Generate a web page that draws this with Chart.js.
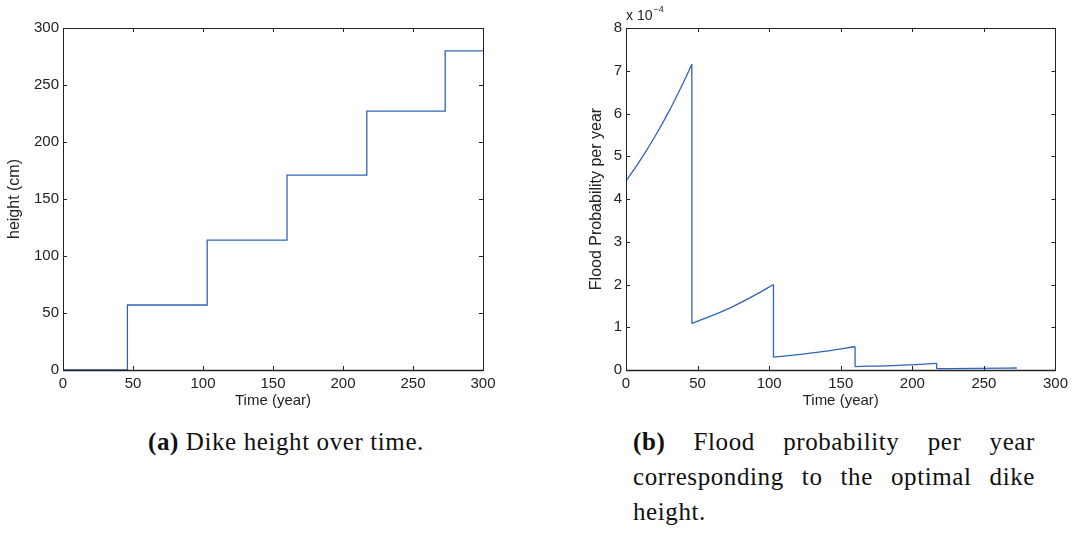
<!DOCTYPE html>
<html>
<head>
<meta charset="utf-8">
<script src="https://cdn.jsdelivr.net/npm/chart.js@4/dist/chart.umd.min.js"></script>
<style>
  body { margin: 0; background: #fff; width: 1073px; height: 533px; position: relative; overflow: hidden; }
  .box { position: absolute; top: 0; height: 415px; }
  .cap { position: absolute; font-family: "Liberation Serif", serif; font-size: 25px; letter-spacing: 0.6px; color: #111; line-height: 35px; }
  .cap b { font-weight: bold; }
  .jl { text-align: justify; text-align-last: justify; }
</style>
</head>
<body>
<div class="box" style="left:0;width:510px"><canvas id="dike"></canvas></div>
<div class="box" style="left:560px;width:513px"><canvas id="flood"></canvas></div>
<div class="cap" style="left:148px;top:424px"><b>(a)</b> Dike height over time.</div>
<div class="cap" style="left:633px;top:424px;width:402px">
  <div class="jl"><b>(b)</b> Flood probability per year</div>
  <div class="jl">corresponding to the optimal dike</div>
  <div>height.</div>
</div>
<script>
// (a) dike height, step function
var dikeTime   = [0, 46, 46, 103, 103, 160, 160, 217, 217, 273, 273, 300];
var dikeHeight = [0, 0, 57, 57, 114, 114, 171, 171, 227, 227, 280, 280];

// (b) flood probability per year, in units of 1e-4
// a repeated time value marks a drop (dike raised)
var floodTime = [0, 10, 20, 30, 40, 46,
                 46, 60, 75, 90, 103,
                 103, 120, 140, 160,
                 160, 190, 217,
                 217, 245, 273];
var floodProb = [4.42, 4.91, 5.45, 6.05, 6.72, 7.15,
                 1.09, 1.27, 1.49, 1.75, 2.0,
                 0.30, 0.36, 0.44, 0.55,
                 0.08, 0.11, 0.155,
                 0.03, 0.038, 0.047];

var lineColor = '#2f64b8';
var ink = '#222';
var sans = 'Liberation Sans';

function pts(xs, ys) {
    return xs.map(function(x, i){ return {x: x, y: ys[i]}; });
}

// split the flood series into smooth pieces + the vertical drops between them
function floodSets() {
    var pieces = [], drops = [], cur = [];
    floodTime.forEach(function(t, i){
        if (i > 0 && t === floodTime[i - 1]) {
            pieces.push(cur); cur = [];
            drops.push({x: t, y: floodProb[i - 1]}, {x: t, y: floodProb[i]}, {x: t, y: null});
        }
        cur.push({x: t, y: floodProb[i]});
    });
    pieces.push(cur);
    var sets = pieces.map(function(p){
        return { data: p, cubicInterpolationMode: 'monotone' };
    });
    sets.push({ data: drops, spanGaps: false, tension: 0 });
    return sets;
}

// matlab-like box with inward ticks on all four sides
var frame = {
    id: 'frame',
    afterDraw: function(chart) {
        var ctx = chart.ctx, a = chart.chartArea, sx = chart.scales.x, sy = chart.scales.y;
        ctx.save();
        ctx.strokeStyle = ink;
        ctx.lineWidth = 1;
        ctx.strokeRect(Math.round(a.left) + 0.5, Math.round(a.top) + 0.5,
                       Math.round(a.width), Math.round(a.height));
        ctx.beginPath();
        sx.ticks.forEach(function(t){
            var p = Math.round(sx.getPixelForValue(t.value)) + 0.5;
            ctx.moveTo(p, a.bottom); ctx.lineTo(p, a.bottom - 4);
            ctx.moveTo(p, a.top); ctx.lineTo(p, a.top + 4);
        });
        sy.ticks.forEach(function(t){
            var p = Math.round(sy.getPixelForValue(t.value)) + 0.5;
            ctx.moveTo(a.left, p); ctx.lineTo(a.left + 4, p);
            ctx.moveTo(a.right, p); ctx.lineTo(a.right - 4, p);
        });
        ctx.stroke();
        // bottom axis reads a little heavier in the original
        ctx.lineWidth = 1.6;
        ctx.beginPath();
        ctx.moveTo(a.left, Math.round(a.bottom) + 0.5);
        ctx.lineTo(a.right, Math.round(a.bottom) + 0.5);
        ctx.stroke();
        var note = chart.options.plugins.frame && chart.options.plugins.frame.exponent;
        if (note) {
            ctx.fillStyle = ink;
            ctx.textBaseline = 'alphabetic';
            ctx.font = '14px ' + sans;
            ctx.fillText('x 10', a.left, a.top - 8);
            var w = ctx.measureText('x 10').width;
            ctx.font = '9px ' + sans;
            ctx.fillText(note, a.left + w + 1, a.top - 16);
        }
        ctx.restore();
    }
};

function makeChart(id, datasets, yMax, yStep, yTitle, yAxisW, titlePad, padRight, exponent) {
    datasets.forEach(function(d){
        d.borderColor = lineColor;
        d.backgroundColor = lineColor;
        d.borderWidth = 1.3;
        d.pointRadius = 0;
        d.fill = false;
    });
    return new Chart(document.getElementById(id), {
        type: 'line',
        data: { datasets: datasets },
        options: {
            responsive: true,
            maintainAspectRatio: false,
            animation: false,
            layout: { padding: { top: 28, right: padRight, left: 0, bottom: 0 } },
            plugins: { legend: { display: false }, tooltip: { enabled: false }, frame: { exponent: exponent } },
            scales: {
                x: {
                    type: 'linear', min: 0, max: 300,
                    grid: { display: false, drawTicks: false },
                    border: { display: false },
                    ticks: { stepSize: 50, color: ink, padding: 5, font: { family: sans, size: 15 } },
                    title: { display: true, text: 'Time (year)', color: ink,
                             font: { family: sans, size: 15 }, padding: { top: 0, bottom: 5 } },
                    afterFit: function(s){ s.height = 45; }
                },
                y: {
                    type: 'linear', min: 0, max: yMax,
                    grid: { display: false, drawTicks: false },
                    border: { display: false },
                    ticks: { stepSize: yStep, color: ink, padding: 4, font: { family: sans, size: 15 } },
                    title: { display: true, text: yTitle, color: ink,
                             font: { family: sans, size: 16 }, padding: { top: titlePad, bottom: 0 } },
                    afterFit: function(s){ s.width = yAxisW; }
                }
            }
        },
        plugins: [frame]
    });
}

makeChart('dike', [{ data: pts(dikeTime, dikeHeight), tension: 0 }],
          300, 50, 'height (cm)', 63, 5, 27, null);
makeChart('flood', floodSets(), 8, 1, 'Flood Probability per year', 66, 27, 13, '\u22124');
</script>
</body>
</html>
